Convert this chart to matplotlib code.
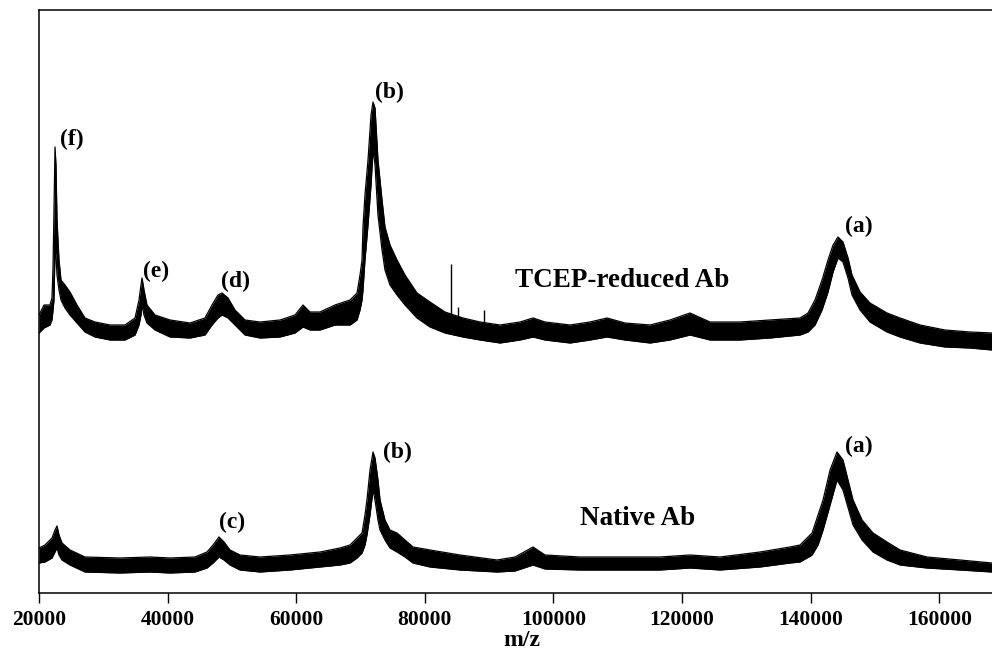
import matplotlib
matplotlib.use("Agg")
import matplotlib.pyplot as plt

# ---------------- data ----------------
# TCEP-reduced Ab trace (offset upward): m/z, upper and lower envelope of the noisy band
tcep_mz = [20000, 20780, 21710, 22020, 22180, 22330, 22490, 22640, 22800, 23110,
           23420, 24040, 24820, 25910, 27150, 28710, 31040, 33370, 34930, 35550,
           35860, 36020, 36330, 36790, 38040, 40370, 43480, 45810, 46900, 47830,
           48460, 49390, 50480, 52030, 54370, 57480, 59810, 61050, 62140, 63700,
           66030, 68360, 69450, 69920, 70230, 70380, 70690, 71160, 71630, 71940,
           72250, 72710, 73340, 73800, 74580, 75670, 76910, 78780, 80800, 83130,
           85930, 88580, 91690, 94800, 96820, 98680, 102570, 105680, 108320, 111120,
           115010, 118120, 121230, 124340, 129010, 133670, 138340, 139580, 140670, 141760,
           142690, 143470, 144240, 145020, 145800, 146420, 147670, 149220, 151860, 153890,
           157000, 160880, 164770, 168190]
tcep_upper = [278, 288, 288, 295, 326, 383, 446, 428, 373, 333,
              313, 308, 301, 288, 275, 271, 268, 268, 275, 293,
              308, 315, 303, 288, 278, 273, 270, 275, 288, 298,
              300, 295, 283, 273, 271, 273, 278, 288, 281, 281,
              288, 293, 300, 318, 333, 366, 398, 433, 478, 491,
              485, 433, 393, 366, 348, 333, 318, 300, 291, 281,
              275, 271, 268, 271, 275, 271, 268, 271, 275, 270,
              268, 273, 280, 271, 271, 273, 275, 280, 293, 313,
              333, 348, 356, 351, 335, 318, 301, 290, 280, 275,
              268, 263, 261, 260]
tcep_lower = [260, 265, 268, 273, 283, 293, 343, 338, 318, 303,
              293, 285, 278, 270, 261, 256, 253, 253, 258, 268,
              278, 288, 278, 270, 263, 256, 255, 258, 268, 275,
              278, 275, 268, 258, 255, 256, 260, 266, 263, 263,
              268, 268, 273, 283, 293, 303, 333, 368, 408, 443,
              428, 378, 343, 323, 308, 298, 288, 275, 266, 260,
              256, 253, 250, 253, 256, 253, 250, 253, 256, 253,
              250, 253, 258, 253, 253, 255, 258, 261, 268, 283,
              301, 321, 335, 331, 315, 298, 283, 271, 261, 256,
              250, 246, 245, 243]
tcep_spike_mz = [84070, 85170, 89200]
tcep_spike_top = [329, 286, 283]
tcep_spike_base = [262, 262, 258]

# Native Ab trace
native_mz = [20000, 20930, 22020, 22490, 22800, 23110, 23580, 24820, 27150, 32600,
             37260, 40370, 44260, 46120, 47060, 47990, 48770, 49700, 51260, 54370,
             59030, 63700, 66810, 68360, 69450, 70230, 70690, 71000, 71470, 71940,
             72250, 72710, 73030, 73800, 74580, 75670, 76910, 78160, 80800, 85470,
             91220, 94020, 96820, 98680, 104130, 110350, 116570, 121230, 125900, 132120,
             136780, 138340, 140210, 141140, 141920, 143010, 144090, 145020, 146580, 147980,
             149690, 151860, 153890, 158080, 163220, 168190]
native_upper = [45, 48, 55, 63, 67, 58, 50, 43, 36, 35,
                36, 35, 36, 41, 48, 56, 51, 43, 38, 36,
                38, 41, 45, 48, 55, 60, 78, 93, 123, 141,
                135, 113, 93, 73, 63, 60, 53, 46, 43, 38,
                33, 36, 46, 38, 36, 36, 36, 38, 36, 41,
                46, 48, 60, 78, 93, 123, 141, 133, 93, 73,
                60, 51, 43, 36, 33, 30]
native_lower = [30, 31, 35, 41, 45, 38, 33, 28, 21, 20,
                21, 20, 21, 25, 30, 36, 33, 28, 23, 21,
                23, 26, 28, 30, 35, 40, 48, 58, 78, 103,
                93, 73, 63, 53, 45, 41, 36, 30, 26, 23,
                21, 22, 28, 24, 23, 23, 23, 25, 23, 26,
                30, 31, 38, 48, 63, 88, 113, 103, 68, 53,
                41, 33, 28, 25, 23, 21]

# annotations: (text, m/z, intensity)
peak_labels = [("(f)", 25130, 454), ("(e)", 38190, 322), ("(d)", 50630, 312),
               ("(b)", 74430, 501), ("(a)", 147510, 367),
               ("(c)", 50010, 71), ("(b)", 75670, 141), ("(a)", 147510, 147)]
trace_names = [("TCEP-reduced Ab", 110660, 306), ("Native Ab", 113150, 68)]

xticks = [20000, 40000, 60000, 80000, 100000, 120000, 140000, 160000]

# ---------------- figure ----------------
FONT = "Liberation Serif"
fig = plt.figure(figsize=(9.92, 6.52), dpi=100)
ax = fig.add_axes([39 / 992, 59 / 652, 953 / 992, 583 / 652])

for mz, up, lo in [(tcep_mz, tcep_upper, tcep_lower), (native_mz, native_upper, native_lower)]:
    ax.fill_between(mz, lo, up, color="black", linewidth=0)
    ax.plot(mz, up, color="black", lw=0.9)
    ax.plot(mz, lo, color="black", lw=0.9)
ax.vlines(tcep_spike_mz, tcep_spike_base, tcep_spike_top, color="black", lw=1.0)

for txt, x, y in peak_labels:
    ax.text(x, y, txt, fontsize=17, fontweight="bold", family=FONT,
            ha="center", va="center")
for txt, x, y in trace_names:
    ax.text(x, y, txt, fontsize=19.5, fontweight="bold", family=FONT,
            ha="center", va="baseline")

ax.set_xlim(20000, 168190)
ax.set_ylim(0, 583)
ax.set_yticks([])
ax.set_xticks(xticks)
ax.set_xticklabels([str(t) for t in xticks], fontsize=15.5, fontweight="bold",
                   family=FONT)
ax.tick_params(axis="x", direction="out", length=7, width=1, pad=5)
ax.spines["right"].set_visible(False)
for s in ["left", "top", "bottom"]:
    ax.spines[s].set_linewidth(1.1)

fig.text(522 / 992, 1.0 / 652, "m/z", fontsize=17, fontweight="bold", family=FONT,
         ha="center", va="bottom")

fig.savefig("out.png", dpi=100)
